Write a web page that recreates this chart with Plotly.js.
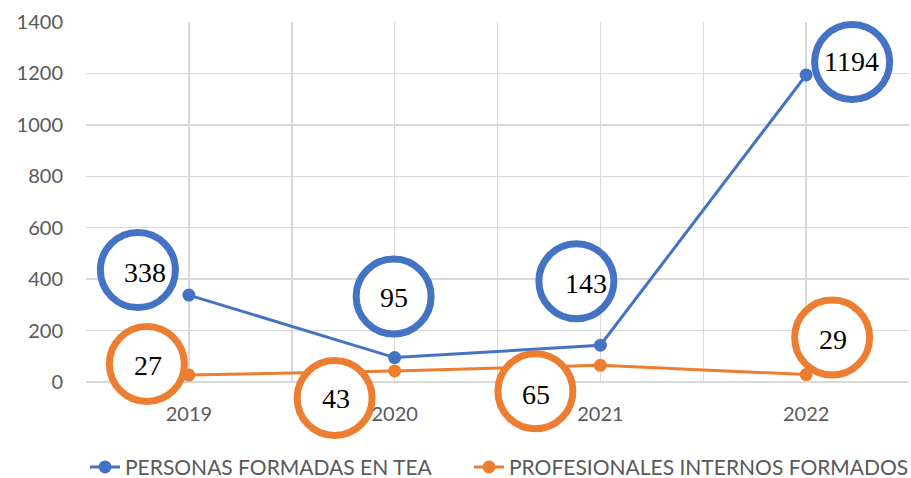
<!DOCTYPE html>
<html>
<head>
<meta charset="utf-8">
<script src="https://cdn.plot.ly/plotly-3.0.1.min.js"></script>
<style>
  html, body { margin: 0; padding: 0; background: #fff; }
  #chart { width: 911px; height: 478px; }
</style>
</head>
<body>
<div id="chart"></div>
<script>
const years = ["2019", "2020", "2021", "2022"];
const personasFormadas = [338, 95, 143, 1194];
const profesionalesInternos = [27, 43, 65, 29];
const seriesNames = ["PERSONAS FORMADAS EN TEA", "PROFESIONALES INTERNOS FORMADOS"];

// where Excel put each circled label, in pixels from its point (y up)
const personasRingShift = [[-51, 25], [-1, 61], [-24, 64], [46, 13]];
const personasTextShift = [[-44, 23], [-1, 60], [-14, 62], [45, 13]];
const profesionalesRingShift = [[-42, 11], [-60, -27], [-65, -26], [26, 37]];
const profesionalesTextShift = [[-41, 10], [-59, -28], [-64, -29], [27, 35]];

const blue = "#4472C4";
const orange = "#ED7D31";
const grey = "#595959";
const ringR = 37.5;

const xIdx = years.map((_, i) => i);

// gridlines every half category, labels only on the categories
const tickVals = [];
const tickText = [];
for (let v = -0.5; v <= years.length - 0.5; v += 0.5) {
  tickVals.push(v);
  tickText.push(Number.isInteger(v) ? years[v] : "");
}

const traces = [
  {
    x: xIdx,
    y: personasFormadas,
    type: "scatter",
    mode: "lines+markers",
    name: seriesNames[0],
    legend: "legend",
    line: { color: blue, width: 3 },
    marker: { color: blue, size: 13 },
  },
  {
    x: xIdx,
    y: profesionalesInternos,
    type: "scatter",
    mode: "lines+markers",
    name: seriesNames[1],
    legend: "legend2",
    line: { color: orange, width: 3 },
    marker: { color: orange, size: 13 },
  },
];

const shapes = [];
const annotations = [];
function addLabels(values, color, ringShift, textShift) {
  values.forEach((v, i) => {
    const [dx, dy] = ringShift[i];
    shapes.push({
      type: "circle",
      xref: "x",
      yref: "y",
      xsizemode: "pixel",
      ysizemode: "pixel",
      xanchor: i,
      yanchor: v,
      x0: dx - ringR,
      x1: dx + ringR,
      y0: dy - ringR,
      y1: dy + ringR,
      line: { color: color, width: 7 },
      fillcolor: "#ffffff",
      layer: "above",
    });
    annotations.push({
      x: i,
      y: v,
      xref: "x",
      yref: "y",
      text: String(v),
      showarrow: false,
      xshift: textShift[i][0],
      yshift: textShift[i][1],
      font: { family: "Liberation Serif, Times New Roman, serif", size: 28, color: "#000" },
    });
  });
}
addLabels(personasFormadas, blue, personasRingShift, personasTextShift);
addLabels(profesionalesInternos, orange, profesionalesRingShift, profesionalesTextShift);

const legendBase = {
  orientation: "h",
  xref: "container",
  xanchor: "left",
  y: -0.18,
  yanchor: "top",
  font: { size: 21, color: grey },
};

const layout = {
  width: 911,
  height: 478,
  margin: { l: 86, r: 2, t: 22, b: 96, autoexpand: false },
  paper_bgcolor: "#fff",
  plot_bgcolor: "#fff",
  font: { family: "Lato, Calibri, sans-serif", size: 20, color: grey },
  showlegend: true,
  legend: { ...legendBase, x: 85 / 911 },
  legend2: { ...legendBase, x: 469 / 911 },
  xaxis: {
    range: [-0.5, years.length - 0.5],
    tickmode: "array",
    tickvals: tickVals,
    ticktext: tickText,
    showgrid: true,
    gridcolor: "#D9D9D9",
    gridwidth: 1.5,
    zeroline: false,
    showline: false,
    ticks: "",
    ticklabelstandoff: 18,
    fixedrange: true,
  },
  yaxis: {
    range: [0, 1400],
    dtick: 200,
    showgrid: true,
    gridcolor: "#D9D9D9",
    gridwidth: 1.5,
    zeroline: true,
    zerolinecolor: "#D9D9D9",
    zerolinewidth: 1.5,
    showline: false,
    ticks: "",
    ticklabelstandoff: 22,
    fixedrange: true,
  },
  shapes: shapes,
  annotations: annotations,
};

const chart = document.getElementById("chart");
Plotly.newPlot(chart, traces, layout, { staticPlot: true }).then(() => {
  // the rings sit partly outside the plot area, as in the original
  chart.querySelectorAll(".shapelayer, .shapelayer *").forEach((el) => el.removeAttribute("clip-path"));
});
</script>
</body>
</html>
